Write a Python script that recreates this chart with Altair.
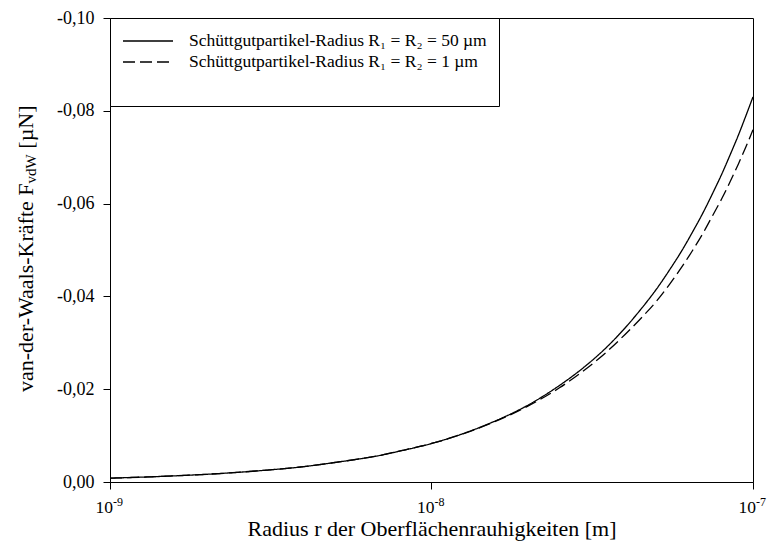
import altair as alt
import pandas as pd

FONT = "Liberation Serif"

# asperity radius r [m]
r_values = [1e-9, 1.5e-9, 2e-9, 3e-9, 4e-9, 5e-9, 6e-9, 7e-9, 8e-9, 9e-9,
            1e-8, 1.5e-8, 2e-8, 2.5e-8, 3e-8, 3.5e-8, 4e-8, 4.5e-8, 5e-8,
            5.5e-8, 6e-8, 6.5e-8, 7e-8, 7.5e-8, 8e-8, 8.5e-8, 9e-8, 9.5e-8, 1e-7]
# van-der-Waals force [µN], R1 = R2 = 50 µm
f_50 = [-0.00083, -0.00125, -0.00166, -0.0025, -0.0033, -0.0042, -0.0050, -0.0058,
        -0.0067, -0.0075, -0.0083, -0.0125, -0.0166, -0.0208, -0.0249, -0.0290,
        -0.0332, -0.0374, -0.0415, -0.0457, -0.0498, -0.0540, -0.0581, -0.0623,
        -0.0664, -0.0706, -0.0747, -0.0789, -0.0830]
# van-der-Waals force [µN], R1 = R2 = 1 µm
f_1 = [-0.00083, -0.00125, -0.00166, -0.0025, -0.0033, -0.0042, -0.0050, -0.0058,
       -0.0067, -0.0075, -0.0083, -0.0124, -0.0164, -0.0203, -0.0242, -0.0280,
       -0.0318, -0.0354, -0.0389, -0.0426, -0.0463, -0.0500, -0.0537, -0.0575,
       -0.0611, -0.0648, -0.0685, -0.0722, -0.0759]

series_names = ["Schüttgutpartikel-Radius R\u2081 = R\u2082 = 50 µm",
                "Schüttgutpartikel-Radius R\u2081 = R\u2082 = 1 µm"]

x_ticks = [1e-9, 1e-8, 1e-7]
x_tick_exp = ["-9", "-8", "-7"]
y_ticks = [0.0, -0.02, -0.04, -0.06, -0.08, -0.10]

y_title_parts = ["van-der-Waals-Kräfte F", "vdW", "[µN]"]

df = pd.concat([
    pd.DataFrame({"r": r_values, "F": f_50, "serie": series_names[0]}),
    pd.DataFrame({"r": r_values, "F": f_1, "serie": series_names[1]}),
])
df_xt = pd.DataFrame({"r": x_ticks, "base": ["10"] * 3, "exp": x_tick_exp})

W, H = 643, 464

xscale = alt.Scale(type="log", domain=[1e-9, 1e-7], nice=False)
yscale = alt.Scale(domain=[0, -0.1], nice=False, zero=False)

lines = alt.Chart(df).mark_line(strokeWidth=1.3, color="black", interpolate="monotone").encode(
    x=alt.X("r:Q", scale=xscale,
            axis=alt.Axis(values=x_ticks, labels=False, tickSize=7,
                          title="Radius r der Oberflächenrauhigkeiten [m]",
                          titleFont=FONT, titleFontSize=22, titleFontWeight="normal",
                          titlePadding=29, titleColor="black")),
    y=alt.Y("F:Q", scale=yscale,
            axis=alt.Axis(values=y_ticks, tickSize=7, labelPadding=9,
                          labelExpr="(datum.value < 0 ? '-' : '') + replace(format(abs(datum.value), '.2f'), '.', ',')",
                          labelFont=FONT, labelFontSize=18, labelColor="black",
                          title=None)),
    strokeDash=alt.StrokeDash("serie:N",
        scale=alt.Scale(domain=series_names, range=[[1, 0], [12, 5]]),
        legend=alt.Legend(orient="top-left", offset=0, title=" ", titleOrient="bottom",
                          titleFontSize=14, titlePadding=9,
                          symbolType="M-1,0L4,0", symbolSize=400, symbolStrokeWidth=1.3,
                          symbolStrokeColor="black",
                          labelFont=FONT, labelFontSize=17.5, labelColor="black",
                          labelOffset=45, labelLimit=600,
                          fillColor="white", strokeColor="black",
                          padding=12, rowPadding=1)),
    detail="serie:N",
)

xlab_base = alt.Chart(df_xt).mark_text(align="right", baseline="middle", dx=3,
                                       font=FONT, fontSize=17.5, color="black").encode(
    x=alt.X("r:Q", scale=xscale), y=alt.value(H + 26), text="base:N")
xlab_exp = alt.Chart(df_xt).mark_text(align="left", baseline="middle", dx=3, dy=-6,
                                      font=FONT, fontSize=12, color="black").encode(
    x=alt.X("r:Q", scale=xscale), y=alt.value(H + 26), text="exp:N")

# y title composed of pieces (subscript); pieces meet at a common point P
fs_t, fs_s = 22, 15
w1 = 9.58 * fs_t
w2 = 1.95 * fs_s
gap = 0.25 * fs_t
w3 = 1.95 * fs_t
tot = w1 + w2 + gap + w3
P = -tot / 2 + w1
yt = []
for txt, align, off, fs, dy in [(y_title_parts[0], "right", P, fs_t, 0),
                                (y_title_parts[1], "left", P, fs_s, 5),
                                (y_title_parts[2], "left", P + w2 + gap, fs_t, 0)]:
    yt.append(alt.Chart(pd.DataFrame({"t": [txt]})).mark_text(
        angle=270, align=align, baseline="middle", dx=off, dy=dy,
        font=FONT, fontSize=fs, color="black").encode(
        x=alt.value(-84), y=alt.value(H / 2), text="t:N"))

chart = alt.layer(lines, xlab_base, xlab_exp, *yt).properties(
    width=W, height=H,
    autosize=alt.AutoSizeParams(type="none"),
    padding={"left": 110, "top": 18, "right": 14, "bottom": 77},
    background="white",
).configure_view(stroke="black", strokeWidth=1).configure_axis(
    domainColor="black", tickColor="black", grid=False, domainWidth=1, tickWidth=1
)

chart.save("out.html", embed_options={"renderer": "svg", "actions": False})
